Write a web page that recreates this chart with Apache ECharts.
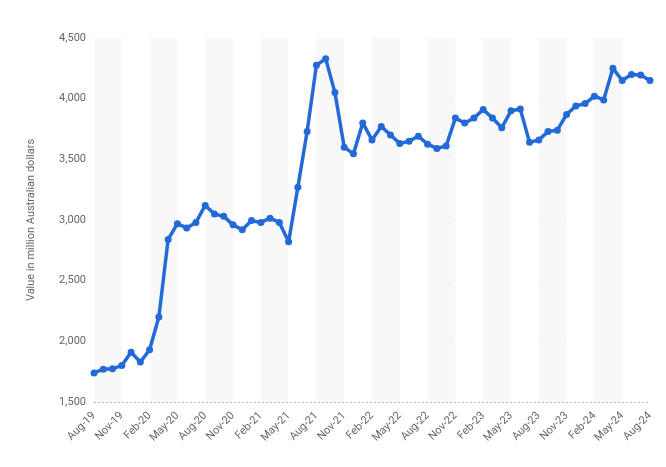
<!DOCTYPE html><html><head><meta charset="utf-8"><script src="https://cdn.jsdelivr.net/npm/echarts@6/dist/echarts.min.js"></script></head><body style="margin:0"><div id="c" style="width:666px;height:467px"></div><script>
const months=['Jan','Feb','Mar','Apr','May','Jun','Jul','Aug','Sep','Oct','Nov','Dec'];
const categories=[];for(let y=19;y<=24;y++)for(let m=0;m<12;m++){if((y==19&&m<7)||(y==24&&m>7))continue;categories.push(months[m]+'-'+y);}
const values=[1740,1770,1775,1800,1910,1830,1930,2200,2840,2970,2935,2980,3120,3050,3030,2960,2920,2995,2980,3015,2980,2820,3270,3730,4275,4330,4050,3600,3545,3800,3660,3770,3700,3630,3650,3690,3625,3590,3610,3840,3800,3840,3910,3840,3760,3900,3915,3640,3660,3730,3740,3870,3940,3960,4020,3990,4250,4150,4200,4195,4150];
const chart=echarts.init(document.getElementById('c'));
chart.setOption({animation:false,grid:{left:94,right:16,top:38,bottom:65},
xAxis:{type:'category',data:categories,boundaryGap:false,axisLine:{show:false},axisTick:{show:false},
axisLabel:{interval:2,rotate:45,color:'#666',fontSize:11,fontFamily:'Roboto',margin:12},
splitArea:{show:true,interval:2,areaStyle:{color:['#f8f8f8','#ffffff']}}},
yAxis:{type:'value',min:1500,max:4500,interval:500,name:'Value in million Australian dollars',nameLocation:'middle',nameGap:57,nameTextStyle:{color:'#666',fontSize:11,fontFamily:'Roboto'},
axisLabel:{color:'#666',fontSize:11,fontFamily:'Roboto',formatter:v=>v.toLocaleString('en-US')},
splitLine:{lineStyle:{type:[2,2],color:'#bbb'}}},
series:[{type:'line',data:values,symbol:'circle',symbolSize:7,showSymbol:true,showAllSymbol:true,lineStyle:{width:3.5,color:'#236ad8'},itemStyle:{color:'#236ad8'}}]});
</script></body></html>
